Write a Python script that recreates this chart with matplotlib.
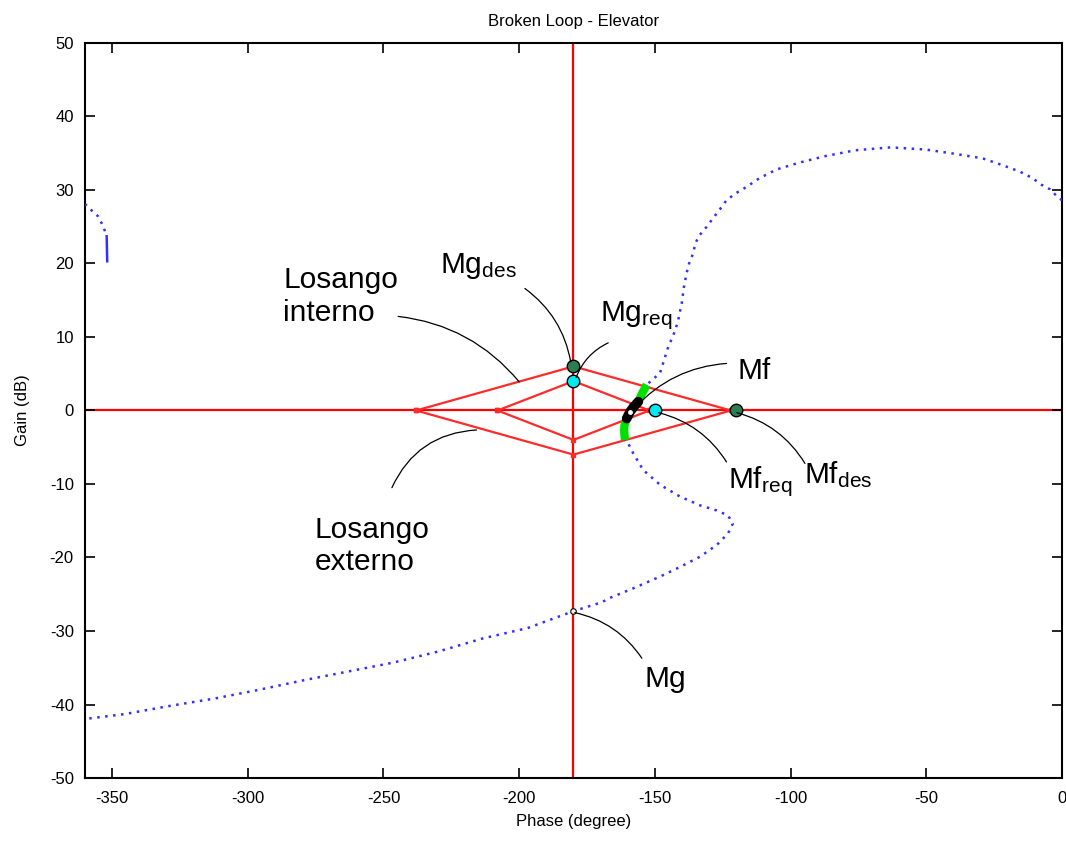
import numpy as np
import matplotlib.pyplot as plt

plt.rcParams['font.family'] = ['Liberation Sans', 'DejaVu Sans']
plt.rcParams['mathtext.fontset'] = 'custom'
plt.rcParams['mathtext.rm'] = 'Liberation Sans'
plt.rcParams['mathtext.it'] = 'Liberation Sans'
plt.rcParams['axes.unicode_minus'] = False

# Nichols curve (phase in degree, gain in dB), main branch from 0 deg to -360 deg
phase = [0, -2.0, -4.4, -7.5, -10.8, -15.5, -22.1, -29.2, -39.1, -50.2, -63.1,
         -76.2, -87.3, -97.0, -105.1, -111.5, -116.3, -120.4, -123.6, -126.0,
         -129.1, -130.9, -133.4, -134.9, -136.1, -137.4, -138.3, -139.3, -140.1,
         -141.4, -142.5, -145.3, -148.1, -153.0, -154.6, -156.1, -157.8, -159.2,
         -160.4, -161.2, -161.3, -161.2, -161.0, -159.8, -158.0, -154.3, -148.1,
         -140.8, -133.4, -127.2, -123.0, -121.3, -123.0, -127.2, -133.4, -140.8,
         -148.1, -158.0, -166.6, -169.6, -180.0, -196.9, -213.3, -229.9, -246.4,
         -262.9, -279.4, -295.9, -312.4, -328.9, -345.3, -358.5, -360.0]
gain = [28.6, 29.2, 30.1, 30.7, 31.6, 32.5, 33.4, 34.3, 34.9, 35.5, 35.8,
        35.4, 34.6, 33.7, 32.8, 31.6, 30.4, 29.5, 28.6, 27.4,
        25.9, 25.0, 23.9, 22.9, 21.2, 20.0, 18.7, 16.8, 14.6,
        12.3, 10.9, 8.4, 5.1, 3.5, 2.4, 1.2, 0.5, -0.2,
        -1.1, -2.0, -2.7, -3.4, -4.0, -4.5, -5.8, -8.1, -10.1,
        -11.7, -12.9, -13.6, -14.3, -15.4, -16.7, -18.3, -19.9, -21.3,
        -22.6, -24.2, -25.5, -26.1, -27.3, -29.6, -31.0, -32.8, -34.3,
        -35.5, -36.7, -38.0, -39.2, -40.2, -41.3, -41.9, -42.0]

# wrapped branch at the left edge
phase_left = [-360.0, -357.5, -355.1, -353.2, -352.0, -351.8]
gain_left = [28.1, 27.2, 26.4, 25.0, 23.7, 20.3]

# losangos (rhombi)
outer_phase = [-238, -180, -122, -180, -238]
outer_gain = [0, 6, 0, -6, 0]
inner_phase = [-208, -180, -152, -180, -208]
inner_gain = [0, 4, 0, -4, 0]

# margin points
mg_des = (-180, 6)
mg_req = (-180, 4)
mf_des = (-120, 0)
mf_req = (-150, 0)
mf_pt = (-159.2, -0.2)
mg_pt = (-180, -27.3)

fig = plt.figure(figsize=(10.66, 8.41), dpi=100)
ax = fig.add_axes([0.0797, 0.0749, 0.9165, 0.874])

ax.axvline(-180, color='#ff0000', lw=1.6, zorder=1)
ax.axhline(0, color='#ff0000', lw=1.6, zorder=1)
ax.plot(outer_phase, outer_gain, color='#ff2a2a', lw=1.6, marker='s', ms=3, zorder=2)
ax.plot(inner_phase, inner_gain, color='#ff2a2a', lw=1.6, marker='s', ms=3, zorder=2)

ph = np.array(phase)
g = np.array(gain)
ax.plot(ph, g, color='#3030ff', lw=1.8, ls=(0, (1, 2.2)), zorder=3)
ax.plot(phase_left[:5], gain_left[:5], color='#3030ff', lw=1.8, ls=(0, (1, 2.2)), zorder=3)
ax.plot(phase_left[4:], gain_left[4:], color='#3030ff', lw=1.8, zorder=3)

# parts of the curve inside the outer / inner losango
near = (ph > -165) & (ph < -150)
green = near & (g <= 3.5) & (g >= -4.05)
black = near & (g <= 1.2) & (g >= -1.1)
ax.plot(ph[green], g[green], color='#00e000', lw=6, solid_capstyle='butt', zorder=4)
ax.plot(ph[black], g[black], color='black', lw=7, solid_capstyle='round', zorder=5)
ax.plot(*mf_pt, 'o', color='white', ms=2.5, zorder=6)

ax.plot(*mg_des, 'o', mfc='#2e7d52', mec='black', ms=9, mew=1, zorder=7)
ax.plot(*mf_des, 'o', mfc='#2e7d52', mec='black', ms=9, mew=1, zorder=7)
ax.plot(*mg_req, 'o', mfc='#00e8f0', mec='black', ms=9, mew=1, zorder=7)
ax.plot(*mf_req, 'o', mfc='#00e8f0', mec='black', ms=9, mew=1, zorder=7)
ax.plot(*mg_pt, 'o', mfc='white', mec='black', ms=4, mew=0.8, zorder=7)

# annotation leader lines
def leader(start, end, rad):
    ax.annotate('', xy=end, xytext=start,
                arrowprops=dict(arrowstyle='-', color='black', lw=0.9,
                                shrinkA=0, shrinkB=0,
                                connectionstyle='arc3,rad=%s' % rad),
                zorder=8)

leader((-244.6, 12.8), (-200.0, 3.9), -0.2)
leader((-246.9, -10.5), (-215.7, -2.65), -0.3)
leader((-197.9, 16.6), (-181.0, 6.6), -0.2)
leader((-167.2, 9.2), (-179.0, 4.5), 0.2)
leader((-123.6, 6.4), (-157.5, 0.3), 0.2)
leader((-123.6, -7.0), (-148.6, -0.3), 0.2)
leader((-94.7, -7.2), (-119.8, -0.3), 0.2)
leader((-154.8, -33.7), (-179.5, -27.5), 0.2)

fs = 21.5
ax.text(-287.0, 19.6, 'Losango\ninterno', fontsize=fs, va='top', ha='left', linespacing=1.2)
ax.text(-275.3, -14.35, 'Losango\nexterno', fontsize=fs, va='top', ha='left', linespacing=1.2)
ax.text(-229.2, 18.67, r'Mg$_{\mathrm{des}}$', fontsize=fs, va='baseline')
ax.text(-170.2, 12.1, r'Mg$_{\mathrm{req}}$', fontsize=fs, va='baseline')
ax.text(-119.4, 4.33, 'Mf', fontsize=fs, va='baseline')
ax.text(-122.97, -10.6, r'Mf$_{\mathrm{req}}$', fontsize=fs, va='baseline')
ax.text(-95.1, -9.9, r'Mf$_{\mathrm{des}}$', fontsize=fs, va='baseline')
ax.text(-153.7, -37.6, 'Mg', fontsize=fs, va='baseline')

ax.set_xlim(-360, 0)
ax.set_ylim(-50, 50)
ax.set_xticks(range(-350, 1, 50))
ax.set_yticks(range(-50, 51, 10))
ax.tick_params(direction='in', length=7, width=1.2, top=True, right=True, labelsize=12)
ax.tick_params(axis='x', pad=9)
ax.tick_params(axis='y', pad=8)
for s in ax.spines.values():
    s.set_linewidth(1.5)

ax.set_title('Broken Loop - Elevator', fontsize=12, pad=12)
ax.set_xlabel('Phase (degree)', fontsize=12, labelpad=6)
ax.set_ylabel('Gain (dB)', fontsize=12, labelpad=14)

fig.savefig('out.png', dpi=100)
